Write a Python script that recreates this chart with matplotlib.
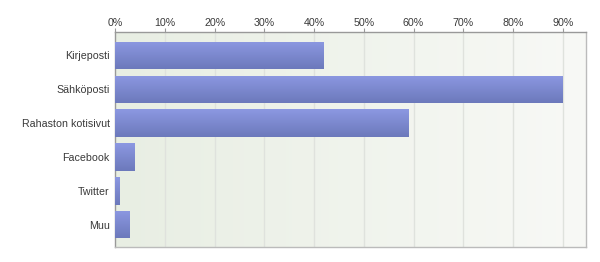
import numpy as np
import matplotlib
matplotlib.use("Agg")
import matplotlib.pyplot as plt
from matplotlib.colors import LinearSegmentedColormap

categories = ["Kirjeposti", "Sähköposti", "Rahaston kotisivut", "Facebook", "Twitter", "Muu"]
values = [42.0, 90.1, 59.1, 4.0, 0.95, 3.0]
ticks = [0, 10, 20, 30, 40, 50, 60, 70, 80, 90]
tick_labels = [f"{t}%" for t in ticks]

plt.rcParams['font.family'] = ['Liberation Sans', 'DejaVu Sans']

fig = plt.figure(figsize=(6, 2.62), dpi=100)
ax = fig.add_axes([115.3/600, 15/262, (585.5-115.3)/600, (247-32)/262])

xmax = 94.6
ymin, ymax = -0.69, 5.66
ax.set_xlim(0, xmax)
ax.set_ylim(ymax, ymin)

# background gradient
bg = LinearSegmentedColormap.from_list("bg", ["#e8eee3", "#f8f9f6"])
grad = np.linspace(0, 1, 256).reshape(1, -1)
ax.imshow(grad, cmap=bg, extent=[0, xmax, ymax, ymin], aspect='auto', zorder=0)

for t in ticks[1:]:
    ax.axvline(t, color="#dfe2dd", lw=1, zorder=1)

y = np.arange(len(categories))
bars = ax.barh(y, values, height=0.81, color="#7c88cf", zorder=2)
barcm = LinearSegmentedColormap.from_list("bar", ["#8c98e2", "#6c79bb"])
vgrad = np.linspace(0, 1, 256).reshape(-1, 1)
for b in bars:
    x0, y0 = b.get_x(), b.get_y()
    w, h = b.get_width(), b.get_height()
    im = ax.imshow(vgrad, cmap=barcm, extent=[x0, x0 + w, y0 + h, y0],
                   aspect='auto', zorder=3)
    im.set_clip_path(b)
ax.set_xlim(0, xmax)
ax.set_ylim(ymax, ymin)

ax.xaxis.tick_top()
ax.set_xticks(ticks)
ax.set_xticklabels(tick_labels)
ax.set_yticks(y)
ax.set_yticklabels(categories)
ax.tick_params(axis='x', length=3, width=0.8, color="#999999", pad=0,
               labelsize=7.7, labelcolor="#3a3a3a")
ax.tick_params(axis='y', length=0, pad=4, labelsize=7.7, labelcolor="#3a3a3a")

ax.spines['left'].set_color("#999999")
ax.spines['top'].set_color("#999999")
ax.spines['right'].set_color("#bbbbbb")
ax.spines['bottom'].set_color("#bbbbbb")
for s in ax.spines.values():
    s.set_linewidth(1.0)

fig.savefig("out.png", dpi=100)
